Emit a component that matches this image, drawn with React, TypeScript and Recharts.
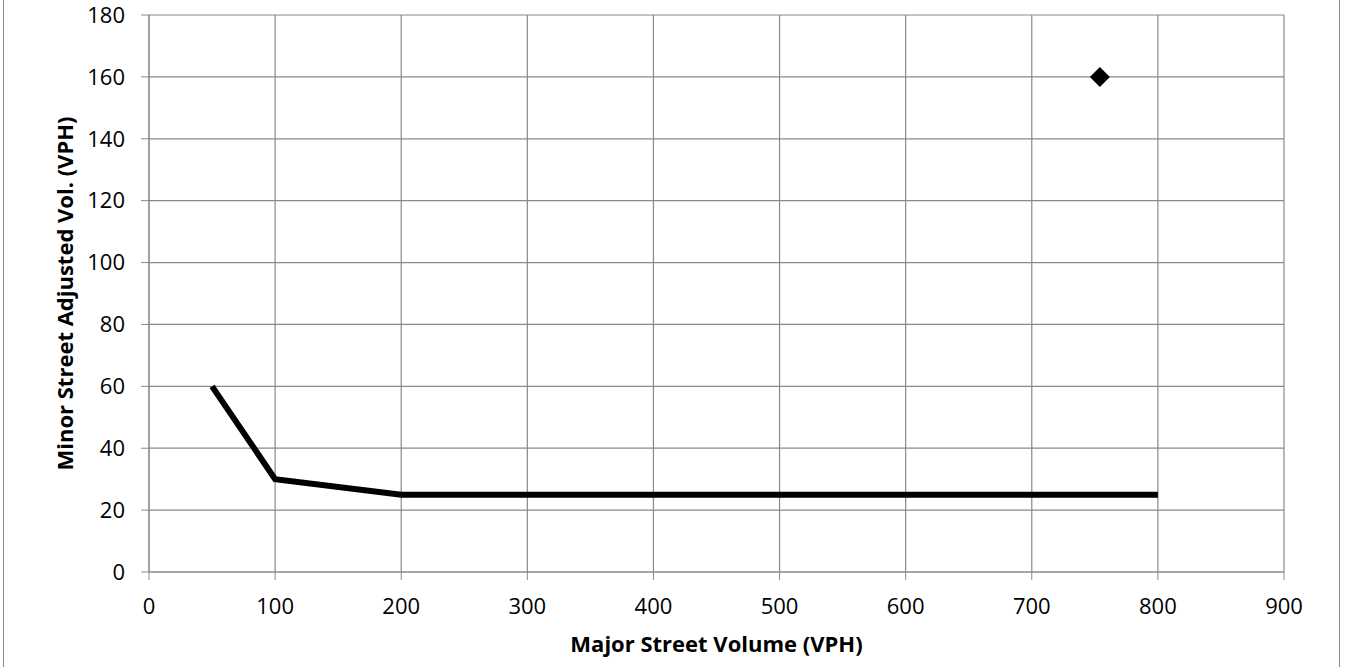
import { ComposedChart, Line, Scatter, XAxis, YAxis, CartesianGrid } from 'recharts'

const warrantCurve = [
  { x: 50, y: 60 },
  { x: 100, y: 30 },
  { x: 200, y: 25 },
  { x: 800, y: 25 },
]
const observed = [{ x: 754, y: 160 }]
const xTicks = [0, 100, 200, 300, 400, 500, 600, 700, 800, 900]
const yTicks = [0, 20, 40, 60, 80, 100, 120, 140, 160, 180]

const GRID = '#898989'
const FONT = '"Open Sans", sans-serif'

// diamond marker, Excel style
function Diamond(props: any) {
  const { cx, cy } = props
  const r = 10
  return <polygon points={`${cx},${cy - r} ${cx + r},${cy} ${cx},${cy + r} ${cx - r},${cy}`} fill="#000" />
}

function YTitle(props: any) {
  const vb = props.viewBox ?? { x: 0, y: 15, width: 149, height: 557 }
  const cx = 64
  const cy = vb.y + vb.height / 2
  return (
    <text x={cx} y={cy} transform={`rotate(-90 ${cx} ${cy})`} textAnchor="middle" dominantBaseline="central"
      style={{ fontFamily: FONT, fontSize: 22, fontWeight: 700, fill: '#000' }}>
      Minor Street Adjusted Vol. (VPH)
    </text>
  )
}

export default function App() {
  const tick = { fontSize: 22, fill: '#000', fontFamily: FONT }
  return (
    <div style={{ position: 'absolute', left: 0, top: 0, width: 1345, height: 667, background: '#fff', overflow: 'hidden' }}>
      <div style={{ position: 'absolute', left: 3, top: -10, width: 1335, height: 700, border: `1px solid ${GRID}` }} />
      <ComposedChart width={1345} height={667} margin={{ top: 15, right: 61, bottom: 0, left: 0 }}>
        <CartesianGrid stroke={GRID} strokeWidth={1.2} />
        <XAxis
          type="number"
          dataKey="x"
          domain={[0, 900]}
          ticks={xTicks}
          interval={0}
          height={95}
          tickSize={8}
          tickMargin={18}
          stroke={GRID}
          tick={tick}
          label={{ value: 'Major Street Volume (VPH)', position: 'insideBottom', offset: 15, style: { fontFamily: FONT, fontSize: 22, fontWeight: 700, fill: '#000' } }}
        />
        <YAxis
          type="number"
          dataKey="y"
          domain={[0, 180]}
          ticks={yTicks}
          interval={0}
          width={149}
          tickSize={8}
          tickMargin={16}
          stroke={GRID}
          tick={tick}
          label={<YTitle />}
        />
        <Line data={warrantCurve} dataKey="y" type="linear" stroke="#000" strokeWidth={6} dot={false} activeDot={false} isAnimationActive={false} />
        <Scatter data={observed} dataKey="y" shape={<Diamond />} isAnimationActive={false} />
      </ComposedChart>
    </div>
  )
}
